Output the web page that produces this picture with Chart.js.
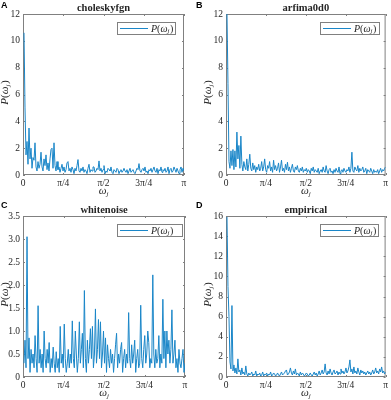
<!DOCTYPE html>
<html>
<head>
<meta charset="utf-8">
<script src="https://cdn.jsdelivr.net/npm/chart.js@4.4.1/dist/chart.umd.min.js"></script>
<style>
  body { margin: 0; background: #fff; width: 391px; height: 400px; position: relative; overflow: hidden; }
  canvas { position: absolute; }
</style>
</head>
<body>
<canvas id="cA" width="195" height="200" style="left:0;top:0"></canvas>
<canvas id="cB" width="196" height="200" style="left:195px;top:0"></canvas>
<canvas id="cC" width="195" height="200" style="left:0;top:200px"></canvas>
<canvas id="cD" width="196" height="200" style="left:195px;top:200px"></canvas>
<script>
// frequency axis ticks
const piTicks = [0, Math.PI / 4, Math.PI / 2, 3 * Math.PI / 4, Math.PI];
const piLabels = ['0', 'π/4', 'π/2', '3π/4', 'π'];

const panelLetters = ['A', 'B', 'C', 'D'];
const panelTitles = ['choleskyfgn', 'arfima0d0', 'whitenoise', 'empirical'];
const yMax = [12, 12, 3.5, 16];
const yStep = [2, 2, 0.5, 2];

// periodogram values (Fourier frequencies up to pi)
const choleskyfgn = [
  10.6, 5.0, 1.5, 2.5, 0.8, 3.5, 1.2, 2.0, 0.5, 1.3, 1.1, 2.4, 0.6, 0.3, 1.0, 0.5, 0.8, 1.7, 0.6, 0.3,
  1.2, 0.7, 1.5, 0.4, 0.9, 0.3, 1.2, 1.9, 2.0, 0.5, 2.4, 0.7, 0.3, 1.0, 0.4, 0.6,
  0.2, 0.5, 0.8, 0.3, 0.6, 0.2, 0.4, 0.9, 1.0, 0.3, 0.5, 0.2, 0.6, 0.4, 0.1, 0.5, 0.3, 0.7, 1.15, 0.3,
  0.2, 0.5, 0.3, 0.6, 0.2,
  0.4, 0.3, 0.1, 0.5, 0.8, 0.2, 0.4, 0.3, 0.6, 0.6, 0.2, 0.3, 0.5, 0.4, 1.05, 0.3, 0.5, 0.2, 0.4, 0.7,
  0.1, 0.3, 0.2, 0.5, 0.4, 0.3, 0.6, 0.2, 0.1, 0.4, 0.3, 0.2, 0.5, 0.4, 0.1, 0.3, 0.4, 0.2, 0.3, 0.5,
  0.3, 0.2, 0.4, 0.1, 0.3, 0.5, 0.2, 0.3, 0.4, 0.2, 0.1, 0.3, 0.5, 0.4, 0.85, 0.3, 0.2, 0.4, 0.5, 0.3,
  0.6, 0.2, 0.3, 0.1, 0.4, 0.3, 0.5, 0.2, 0.4, 0.6, 0.3, 0.2, 0.5, 0.1, 0.4, 0.3, 0.6, 0.2, 0.4, 0.3,
  0.5, 0.2, 0.3, 0.6, 0.1, 0.4, 0.5, 0.2, 0.3, 0.6, 0.4, 0.2, 0.5, 0.3, 0.1, 0.4, 0.6, 0.2, 0.5, 0.3
];
const arfima0d0 = [
  12.0, 6.8, 1.0, 0.5, 1.8, 0.7, 1.9, 0.4, 1.8, 0.6, 3.2, 1.2, 2.2, 0.5, 2.9, 0.8, 0.3, 1.0, 0.6, 0.4,
  1.2, 0.3, 0.8, 1.55, 0.5, 0.3, 0.9, 0.4, 0.7, 0.2, 0.6, 0.4, 0.8, 0.3, 0.5, 1.0, 0.3, 0.6, 1.2, 0.4,
  0.2, 0.7, 0.5, 1.0, 0.3, 0.6, 0.2, 1.1, 0.4, 0.7, 0.3, 0.5, 0.9, 0.2, 0.6, 1.1, 0.3, 0.5, 0.2, 0.8,
  0.4, 0.95, 0.3, 0.6, 0.2, 0.5, 0.8, 0.3, 0.2, 0.6, 0.4, 0.7, 0.3, 0.2, 0.5, 0.3, 0.6, 0.2, 0.4, 0.3,
  0.5,
  0.2, 0.4, 0.3, 0.1, 0.5, 0.3, 0.6, 0.2, 0.4, 0.3, 0.2, 0.5, 0.1, 0.3, 0.4, 0.2, 0.6, 0.3, 0.2, 0.7,
  0.3, 0.1, 0.4, 0.5, 0.2, 0.3, 0.1, 0.4, 0.2, 0.5, 0.3, 0.2, 0.6, 0.1, 0.3, 0.4, 0.2, 0.5, 0.3, 0.2,
  0.4, 0.3, 0.6, 0.2, 0.5, 1.7, 0.3, 0.2, 0.6, 0.4, 0.3, 0.7, 0.2, 0.5, 0.3, 0.4, 0.6, 0.2, 0.3, 0.5,
  0.1, 0.4, 0.3, 0.2, 0.5, 0.3, 0.1, 0.4, 0.2, 0.3, 0.2, 0.4, 0.1, 0.3, 0.5, 0.2, 0.4, 0.3, 0.5, 0.6
];
const whitenoise = [
  0.3, 0.8, 0.2, 3.05, 0.4, 0.85, 0.1, 0.6, 0.3, 0.5, 0.2, 0.9, 0.4, 0.1, 1.55, 0.3, 0.6, 0.2, 0.5, 0.1,
  1.0, 0.4, 0.2, 0.6, 0.3, 0.75, 0.1, 0.4, 0.2, 0.65, 0.3, 0.1, 0.55, 0.2, 0.4, 0.1, 1.1, 0.3, 0.5, 0.2,
  1.15, 0.4, 0.1, 0.3, 0.6, 0.2, 0.5, 0.3, 1.22, 0.4, 0.2, 1.0, 0.5, 0.1, 0.4, 1.2, 0.3, 0.6, 0.95, 0.2,
  1.88, 0.4, 0.1, 0.8, 0.3, 0.6, 1.05, 0.4, 1.1, 0.2, 0.5, 1.48, 0.3, 0.6, 1.25, 0.4, 1.2, 0.2, 0.5, 1.0,
  0.3, 0.85, 0.1, 0.7, 0.4, 0.2, 0.6, 0.3, 0.5, 0.1, 0.4, 0.7, 0.95, 0.2, 0.5, 0.3, 0.6, 0.75, 0.1, 0.4,
  0.6, 0.2, 0.5, 0.3, 1.4, 0.4, 0.2, 0.7, 0.3, 0.5, 0.8, 0.1, 0.4, 0.6, 0.2, 0.3, 1.56, 0.4, 0.2, 0.6,
  0.9, 0.3, 0.5, 1.0, 0.75, 0.2, 0.4, 0.3, 2.22, 0.5, 0.2, 0.6, 0.3, 0.4, 0.9, 0.2, 0.5, 0.3, 1.69, 0.4,
  1.0, 0.2, 1.0, 0.5, 0.8, 0.3, 0.6, 1.46, 0.3, 0.5, 0.8, 0.2, 0.4, 0.1, 0.6, 0.3, 0.2, 0.4, 0.6, 0.1,
  0.3
];
const empirical = [
  15.9, 9.0, 6.0, 1.5, 0.8, 7.1, 0.6, 1.2, 0.4, 0.9, 0.3, 1.8, 0.5, 0.7, 0.2, 0.9, 0.3, 0.5, 0.2, 1.1,
  0.3, 0.1, 0.4, 0.2, 0.3, 0.5, 0.1, 0.3, 0.2, 0.6, 0.1, 0.3, 0.2, 0.4, 0.1, 0.2, 0.5, 0.1, 0.3, 0.2,
  0.4,
  0.1, 0.3, 0.2, 0.5, 0.1, 0.2, 0.4, 0.3, 0.1, 0.2, 0.4, 0.2, 0.1, 0.3, 0.5, 0.2, 0.3, 0.4, 0.6, 0.7,
  0.2, 0.3, 0.5, 0.9, 0.4, 0.2, 0.6, 0.3, 0.8, 0.2, 0.4, 0.3, 0.1, 0.5, 0.2, 0.4, 0.3, 0.1, 0.2, 0.4,
  0.3, 0.1, 0.2, 0.4, 0.2, 0.1, 0.3, 0.5, 0.2, 0.4, 0.1, 0.3, 0.6, 0.2, 0.4, 0.7, 0.3, 0.5, 1.3, 0.4,
  0.2, 0.6, 0.3, 0.8, 0.4, 0.2, 0.5, 0.7, 0.3, 0.4, 0.6, 0.2, 0.5, 0.3, 0.8, 0.4, 0.6, 0.3, 0.5, 0.9,
  0.4, 0.6, 1.0, 1.7, 0.5, 0.8, 0.3, 1.0, 0.4, 0.6, 0.3, 0.9, 0.5, 0.2, 0.7, 0.4, 0.6, 0.3, 0.5, 0.2,
  0.4, 0.6, 0.3, 0.5, 0.2, 0.4, 0.7, 0.3, 0.5, 0.9, 0.4, 0.6, 0.3, 0.8, 0.5, 1.0, 0.4, 0.6, 0.3, 0.5
];
const series = [choleskyfgn, arfima0d0, whitenoise, empirical];

// plot boxes inside each canvas: left, top, right, bottom
const boxes = [
  { left: 23, top: 14, right: 184, bottom: 175, legW: 59 },
  { left: 31, top: 14, right: 193, bottom: 175, legW: 60 },
  { left: 23, top: 16, right: 185, bottom: 177, legW: 66 },
  { left: 31, top: 16, right: 193, bottom: 177, legW: 59 }
];
const ids = ['cA', 'cB', 'cC', 'cD'];

const lineColor = '#1a86c8';
const axisColor = '#808080';
const textColor = '#262626';
const serif = '"Liberation Serif", "DejaVu Serif", serif';

// draws P(omega_j) starting at x, baseline y; returns its width
function drawPw(ctx, x, y, size, measureOnly) {
  const sub = Math.round(size * 0.65);
  const parts = [
    { t: 'P', f: 'italic ' + size + 'px ' + serif, dy: 0 },
    { t: '(', f: size + 'px ' + serif, dy: 0 },
    { t: 'ω', f: 'italic ' + size + 'px ' + serif, dy: 0 },
    { t: 'j', f: 'italic ' + sub + 'px ' + serif, dy: size * 0.15 },
    { t: ')', f: size + 'px ' + serif, dy: 0 }
  ];
  let w = 0;
  parts.forEach(p => {
    ctx.font = p.f;
    if (!measureOnly) ctx.fillText(p.t, x + w, y + p.dy);
    w += ctx.measureText(p.t).width + (p.t === 'j' ? 0.5 : 0);
  });
  return w;
}

function drawOmegaJ(ctx, cx, y, size) {
  const sub = Math.round(size * 0.65);
  ctx.font = 'italic ' + size + 'px ' + serif;
  const w1 = ctx.measureText('ω').width;
  ctx.font = 'italic ' + sub + 'px ' + serif;
  const w2 = ctx.measureText('j').width;
  const x0 = cx - (w1 + w2) / 2;
  ctx.font = 'italic ' + size + 'px ' + serif;
  ctx.fillText('ω', x0, y);
  ctx.font = 'italic ' + sub + 'px ' + serif;
  ctx.fillText('j', x0 + w1, y + size * 0.2);
}

const decor = {
  id: 'decor',
  beforeDatasetsDraw(chart) {
    const ctx = chart.ctx;
    const a = chart.chartArea;
    const xs = chart.scales.x, ys = chart.scales.y;
    ctx.save();
    // axes box
    ctx.strokeStyle = axisColor;
    ctx.lineWidth = 1;
    ctx.strokeRect(a.left + 0.5, a.top + 0.5, a.right - a.left - 1, a.bottom - a.top - 1);
    // inward ticks on all four sides
    ctx.beginPath();
    xs.ticks.forEach(t => {
      const px = Math.round(xs.getPixelForValue(t.value)) + 0.5;
      ctx.moveTo(px, a.bottom); ctx.lineTo(px, a.bottom - 2);
      ctx.moveTo(px, a.top); ctx.lineTo(px, a.top + 2);
    });
    ys.ticks.forEach(t => {
      const py = Math.round(ys.getPixelForValue(t.value)) + 0.5;
      ctx.moveTo(a.left, py); ctx.lineTo(a.left + 2, py);
      ctx.moveTo(a.right, py); ctx.lineTo(a.right - 2, py);
    });
    ctx.stroke();
    ctx.restore();
  },
  afterDraw(chart, args, opts) {
    const ctx = chart.ctx;
    const a = chart.chartArea;
    ctx.save();
    ctx.textBaseline = 'alphabetic';
    ctx.textAlign = 'left';

    // legend box
    const lx = a.left + 94, ly = a.top + 8, lw = opts.legW, lh = 13;
    ctx.fillStyle = '#fff';
    ctx.fillRect(lx, ly, lw, lh);
    ctx.strokeStyle = axisColor;
    ctx.lineWidth = 1;
    ctx.strokeRect(lx + 0.5, ly + 0.5, lw - 1, lh - 1);
    ctx.strokeStyle = lineColor;
    ctx.beginPath();
    ctx.moveTo(lx + 3, ly + 6.5); ctx.lineTo(lx + 31, ly + 6.5);
    ctx.stroke();
    ctx.fillStyle = textColor;
    drawPw(ctx, lx + 34, ly + 9.5, 10);

    // title
    ctx.font = 'bold 10.5px ' + serif;
    ctx.textAlign = 'center';
    ctx.fillText(opts.title, (a.left + a.right) / 2, a.top - 3);

    // panel letter
    ctx.font = 'bold 9px "Liberation Sans", Arial, sans-serif';
    ctx.textAlign = 'left';
    ctx.fillStyle = '#000';
    ctx.fillText(opts.letter, 1, 8);

    // x axis title
    ctx.fillStyle = textColor;
    drawOmegaJ(ctx, (a.left + a.right) / 2, a.bottom + 19, 11);

    // y axis title, rotated
    ctx.save();
    ctx.translate(a.left - 15, (a.top + a.bottom) / 2 - 2);
    ctx.rotate(-Math.PI / 2);
    const w = drawPw(ctx, 0, 0, 11, true);
    drawPw(ctx, -w / 2, 0, 11);
    ctx.restore();

    ctx.restore();
  }
};

series.forEach((vals, i) => {
  const canvas = document.getElementById(ids[i]);
  const b = boxes[i];
  const W = canvas.width, H = canvas.height;
  const n = vals.length;
  new Chart(canvas, {
    type: 'line',
    data: {
      datasets: [{
        data: vals.map((v, k) => ({ x: (k + 1) * Math.PI / n, y: v })),
        borderColor: lineColor,
        borderWidth: 1,
        pointRadius: 0,
        tension: 0,
        fill: false
      }]
    },
    options: {
      responsive: false,
      animation: false,
      devicePixelRatio: 1,
      layout: { padding: { left: 0, top: b.top, right: W - b.right, bottom: 0 } },
      plugins: {
        legend: { display: false },
        tooltip: { enabled: false },
        decor: { title: panelTitles[i], letter: panelLetters[i], legW: b.legW }
      },
      scales: {
        x: {
          type: 'linear',
          min: 0,
          max: Math.PI,
          grid: { display: false, drawTicks: false },
          border: { display: false },
          afterBuildTicks: s => { s.ticks = piTicks.map(v => ({ value: v })); },
          afterFit: s => { s.height = H - b.bottom; },
          ticks: {
            autoSkip: false,
            maxRotation: 0,
            padding: 3,
            color: textColor,
            font: { family: serif, size: 9.5 },
            callback: (v, idx) => piLabels[idx]
          }
        },
        y: {
          min: 0,
          max: yMax[i],
          grid: { display: false, drawTicks: false },
          border: { display: false },
          afterFit: s => { s.width = b.left; },
          ticks: {
            stepSize: yStep[i],
            padding: 3,
            color: textColor,
            font: { family: serif, size: 9.5 }
          }
        }
      }
    },
    plugins: [decor]
  });
});
</script>
</body>
</html>
